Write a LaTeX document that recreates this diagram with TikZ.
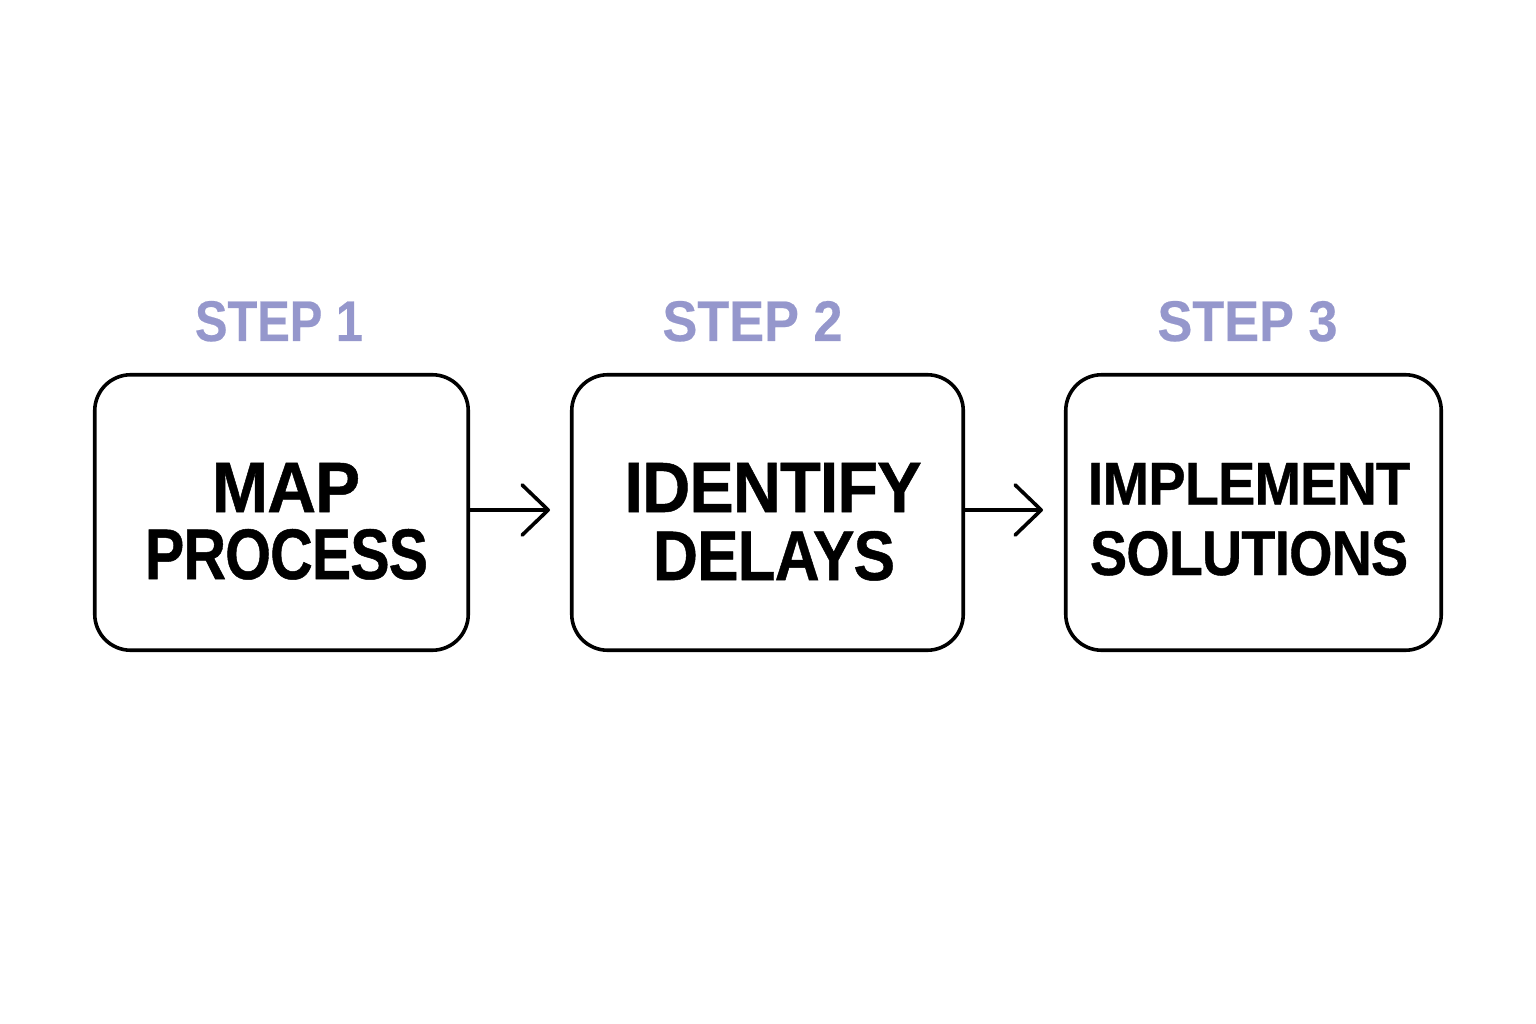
\documentclass[tikz,border=0pt]{standalone}
\usepackage{fontspec}
\setmainfont{Liberation Sans}
\newfontfamily\heavyfont[LetterSpace=-1.5, FakeBold=0.7]{Liberation Sans Bold}
\newfontfamily\labelfont[FakeBold=0.4]{Liberation Sans Bold}
\usetikzlibrary{arrows.meta}
\definecolor{steplav}{RGB}{149,151,204}
\newcommand{\fitln}[3]{\resizebox{#1pt}{#2pt}{\heavyfont #3}}
\newcommand{\fitlab}[3]{\resizebox{#1pt}{#2pt}{\labelfont #3}}
\begin{document}
\begin{tikzpicture}[x=1pt,y=-1pt,
  stepbox/.style={draw=black, line width=3.6pt, rounded corners=36pt,
    minimum width=#1, minimum height=275.5pt, inner sep=0pt},
  tline/.style={anchor=base, inner sep=0pt, text=black},
  slabel/.style={anchor=base, inner sep=0pt, text=steplav},
  flow/.style={draw=black, line width=3.6pt, line cap=round,
    -{Straight Barb[length=26pt, width=50pt, line cap=round, line join=round]}}]
\fill[white] (0,0) rectangle (1536,1024);
\useasboundingbox (0,0) rectangle (1536,1024);

% boxes
\node[stepbox=373.5pt] (b1) at (281.5,512.5) {};
\node[stepbox=391.5pt] (b2) at (767.5,512.5) {};
\node[stepbox=375.5pt] (b3) at (1253.5,512.5) {};

% step labels
\node[slabel] (s1) at (279,341) {\fitlab{168}{40}{STEP 1}};
\node[slabel] (s2) at (752.5,341) {\fitlab{180}{40}{STEP 2}};
\node[slabel] (s3) at (1247.5,341) {\fitlab{180}{40}{STEP 3}};

% box texts
\node[tline] (t1a) at (286,512) {\fitln{148}{49}{MAP}};
\node[tline] (t1b) at (286.5,579) {\fitln{283}{50}{PROCESS}};
\node[tline] (t2a) at (773,512) {\fitln{297}{49}{IDENTIFY}};
\node[tline] (t2b) at (774,580) {\fitln{242}{49}{DELAYS}};
\node[tline] (t3a) at (1249,504.5) {\fitln{322}{41.5}{IMPLEMENT}};
\node[tline] (t3b) at (1249,575) {\fitln{318}{44}{SOLUTIONS}};

% arrows
\coordinate (e1) at (550,510);
\coordinate (e2) at (1043,510);
\draw[flow] (b1.east |- e1) -- (e1);
\draw[flow] (b2.east |- e2) -- (e2);
\end{tikzpicture}
\end{document}
